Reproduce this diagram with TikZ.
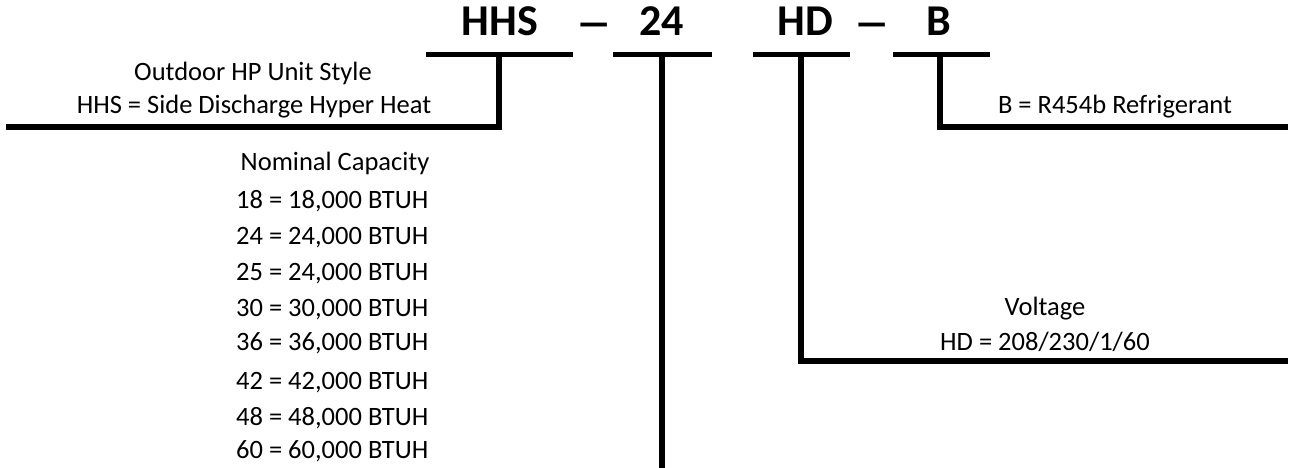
\documentclass[tikz,border=0pt]{standalone}
\usepackage{fontspec}
\setmainfont{Carlito}
\begin{document}
\begin{tikzpicture}[x=1pt,y=-1pt,
  bar/.style={line width=5.6pt, line join=miter, line cap=butt},
  code/.style={font=\fontsize{44}{44}\selectfont\bfseries, anchor=base, inner sep=0pt},
  lbl/.style={font=\fontsize{26.5}{26.5}\selectfont, anchor=base, inner sep=0pt},
  item/.style={lbl, anchor=base west}]
\useasboundingbox (0,0) rectangle (1294,468);

% code letters
\node[code] (cHHS) at (500,36) {HHS};
\node[code] (d1) at (594,38) {\scalebox{1.7}[1]{–}};
\node[code] (c24) at (661.5,36) {24};
\node[code] (cHD) at (805.5,36) {HD};
\node[code] (d2) at (872.5,38) {\scalebox{1.7}[1]{–}};
\node[code] (cB) at (938.5,36) {B};

% underlines
\coordinate (u1a) at (426,54.5); \coordinate (u1b) at (573,54.5);
\coordinate (u2a) at (613,54.5); \coordinate (u2b) at (712,54.5);
\coordinate (u3a) at (753,54.5); \coordinate (u3b) at (850,54.5);
\coordinate (u4a) at (893,54.5); \coordinate (u4b) at (990,54.5);
\draw[bar] (u1a) -- (u1b);
\draw[bar] (u2a) -- (u2b);
\draw[bar] (u3a) -- (u3b);
\draw[bar] (u4a) -- (u4b);

% bracket anchors
\coordinate (t1) at (499,54.5); \coordinate (k1) at (499,127); \coordinate (e1) at (6,127);
\coordinate (t2) at (662,54.5); \coordinate (e2) at (662,468);
\coordinate (t3) at (801,54.5); \coordinate (k3) at (801,361); \coordinate (e3) at (1288,361);
\coordinate (t4) at (940,54.5); \coordinate (k4) at (940,127); \coordinate (e4) at (1288,127);
\draw[bar] (t1) -- (k1) -- (e1);
\draw[bar] (t2) -- (e2);
\draw[bar] (t3) -- (k3) -- (e3);
\draw[bar] (t4) -- (k4) -- (e4);

% labels
\node[lbl] (style1) at (253,80.7) {Outdoor HP Unit Style};
\node[lbl] (style2) at (254,114) {HHS = Side Discharge Hyper Heat};
\node[lbl] (refr) at (1115,114) {B = R454b Refrigerant};
\node[lbl] (volt1) at (1045,315) {Voltage};
\node[lbl] (volt2) at (1045,350) {HD = 208/230/1/60};
\node[lbl] (cap) at (335,171) {Nominal Capacity};
\node[item] (i18) at (236,208) {18 = 18,000 BTUH};
\node[item] (i24) at (236,244) {24 = 24,000 BTUH};
\node[item] (i25) at (236,280) {25 = 24,000 BTUH};
\node[item] (i30) at (236,316) {30 = 30,000 BTUH};
\node[item] (i36) at (236,350) {36 = 36,000 BTUH};
\node[item] (i42) at (236,389) {42 = 42,000 BTUH};
\node[item] (i48) at (236,425) {48 = 48,000 BTUH};
\node[item] (i60) at (236,458) {60 = 60,000 BTUH};
\end{tikzpicture}
\end{document}
